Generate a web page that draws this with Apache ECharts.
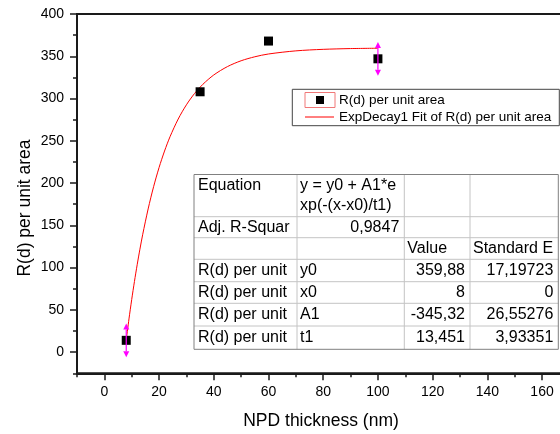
<!DOCTYPE html>
<html><head><meta charset="utf-8">
<script src="https://cdn.jsdelivr.net/npm/echarts@6/dist/echarts.min.js"></script>
<style>html,body{margin:0;padding:0;background:#fff}#c{width:560px;height:434px}</style>
</head><body><div id="c"></div>
<script>
// ---- data ----
const thickness = [8, 35, 60, 100];
const rValues = [14, 308, 368, 347];
const rErrors = [20, 0, 0, 20];
const fitX = [8, 9, 10, 11, 12, 13, 14, 16, 18, 20, 22, 24, 27, 30, 33, 36, 40, 45, 50, 55, 60, 70, 80, 90, 100];
const fitY = [14.6, 39.3, 62.3, 83.6, 103.4, 121.8, 138.9, 169.4, 195.7, 218.4, 237.9, 254.8, 275.8, 292.6, 306.1, 316.8, 327.9, 337.8, 344.7, 349.4, 352.7, 356.4, 358.2, 359.1, 359.5];
const xTickLabels = [0, 20, 40, 60, 80, 100, 120, 140, 160];
const yTickLabels = [0, 50, 100, 150, 200, 250, 300, 350, 400];
const xTitle = 'NPD thickness (nm)';
const yTitle = 'R(d) per unit area';
const legendNames = ['R(d) per unit area', 'ExpDecay1 Fit of R(d) per unit area'];
const tableRows = [
  ['Equation', 'y = y0 + A1*e\nxp(-(x-x0)/t1)', '', ''],
  ['Adj. R-Squar', '0,9847', '', ''],
  ['', '', 'Value', 'Standard E'],
  ['R(d) per unit', 'y0', '359,88', '17,19723'],
  ['R(d) per unit', 'x0', '8', '0'],
  ['R(d) per unit', 'A1', '-345,32', '26,55276'],
  ['R(d) per unit', 't1', '13,451', '3,93351']
];

// ---- layout ----
const FONT = '"Liberation Sans", Arial, sans-serif';
const PX = 2.7356;              // px per nm
const plotLeft = 77, plotTop = 14, plotH = 359.3;
const yMin = -25, yMax = 400, xMin = -10, xMax = 170;
const axisColor = '#1a1a1a';

const colX = [194, 297, 404.3, 470, 558.3];
const rowY = [174.5, 216.7, 237.7, 259.3, 281.7, 303.3, 326, 349.3];

function txt(x, y, s, align, size, extra) {
  return Object.assign({
    type: 'text', x: x, y: y, z: 100,
    style: { text: s, font: size + 'px ' + FONT, fill: '#000', align: align, textAlign: align,
             verticalAlign: 'middle', textVerticalAlign: 'middle', lineHeight: 20 }
  }, extra || {});
}

const graphics = [];
// table
graphics.push({ type: 'rect', z: 90, shape: { x: colX[0], y: rowY[0], width: colX[4] - colX[0], height: rowY[7] - rowY[0] },
  style: { fill: '#fff', stroke: null } });
for (let i = 1; i < rowY.length - 1; i++) {
  graphics.push({ type: 'line', z: 91, shape: { x1: colX[0], y1: rowY[i], x2: colX[4], y2: rowY[i] }, style: { stroke: '#c4c4c4', lineWidth: 1 } });
}
for (let j = 1; j < colX.length - 1; j++) {
  graphics.push({ type: 'line', z: 91, shape: { x1: colX[j], y1: rowY[0], x2: colX[j], y2: rowY[7] }, style: { stroke: '#c4c4c4', lineWidth: 1 } });
}
graphics.push({ type: 'rect', z: 92, shape: { x: colX[0], y: rowY[0], width: colX[4] - colX[0], height: rowY[7] - rowY[0] },
  style: { fill: null, stroke: '#808080', lineWidth: 1 } });
tableRows.forEach((row, r) => {
  row.forEach((cell, c) => {
    if (!cell) return;
    let align = 'left';
    if (c === 1 && r === 1) align = 'right';
    if (c >= 2 && r !== 2) align = 'right';
    const x = align === 'left' ? colX[c] + (c === 0 ? 4 : 3) : colX[c + 1] - 5;
    let y = (rowY[r] + rowY[r + 1]) / 2;
    if (r === 0) y = c === 0 ? 186 : 196;
    graphics.push(txt(x, y, cell, align, 16));
  });
});
// legend
graphics.push({ type: 'rect', z: 90, shape: { x: 292.3, y: 89.3, width: 267, height: 36.4 }, style: { fill: '#fff', stroke: '#444', lineWidth: 1 } });
graphics.push({ type: 'rect', z: 91, shape: { x: 305, y: 92.5, width: 30, height: 15 }, style: { fill: null, stroke: '#f07878', lineWidth: 1 } });
graphics.push({ type: 'rect', z: 92, shape: { x: 316, y: 96, width: 8, height: 8 }, style: { fill: '#000' } });
graphics.push({ type: 'line', z: 92, shape: { x1: 305, y1: 117, x2: 334, y2: 117 }, style: { stroke: '#ff0000', lineWidth: 1 } });
graphics.push(txt(339, 100, legendNames[0], 'left', 13.5));
graphics.push(txt(339, 117, legendNames[1], 'left', 13.5));
// axis titles
graphics.push(txt(321, 421, xTitle, 'center', 17.5));
graphics.push(txt(25, 208, yTitle, 'center', 17.5, { rotation: Math.PI / 2 }));

const chart = echarts.init(document.getElementById('c'), null, { renderer: 'canvas' });
const tickStyle = { color: axisColor, width: 1.5 };
const labelStyle = { fontSize: 14, color: '#000', fontFamily: FONT };
const hiddenLine = { show: true, onZero: false, lineStyle: { color: 'rgba(0,0,0,0)', width: 0 } };

chart.setOption({
  animation: false,
  backgroundColor: '#fff',
  grid: [
    { left: plotLeft, top: plotTop, width: (xMax - xMin) * PX, height: plotH, show: true, borderColor: axisColor, borderWidth: 2,
      backgroundColor: 'transparent', outerBoundsMode: 'none', containLabel: false },
    { left: plotLeft + (0 - xMin) * PX, top: plotTop, width: 160 * PX, height: plotH * (yMax / (yMax - yMin)),
      outerBoundsMode: 'none', containLabel: false }
  ],
  xAxis: [
    { gridIndex: 0, type: 'value', min: xMin, max: xMax, interval: 10,
      axisLine: { show: true, onZero: false, lineStyle: { color: axisColor, width: 2 } },
      axisTick: { show: true, length: 4, lineStyle: tickStyle }, axisLabel: { show: false }, splitLine: { show: false } },
    { gridIndex: 1, type: 'value', min: xTickLabels[0], max: xTickLabels[xTickLabels.length - 1], interval: 20,
      offset: plotH * (-yMin / (yMax - yMin)),
      axisLine: hiddenLine, axisTick: { show: true, length: 7, lineStyle: tickStyle },
      axisLabel: Object.assign({ margin: 12, formatter: v => xTickLabels.includes(v) ? String(v) : '' }, labelStyle),
      splitLine: { show: false } }
  ],
  yAxis: [
    { gridIndex: 0, type: 'value', min: yMin, max: yMax, interval: 25,
      axisLine: { show: true, onZero: false, lineStyle: { color: axisColor, width: 2 } },
      axisTick: { show: true, length: 4, lineStyle: tickStyle }, axisLabel: { show: false }, splitLine: { show: false } },
    { gridIndex: 1, type: 'value', min: yTickLabels[0], max: yTickLabels[yTickLabels.length - 1], interval: 50,
      offset: (0 - xMin) * PX,
      axisLine: hiddenLine, axisTick: { show: true, length: 7, lineStyle: tickStyle },
      axisLabel: Object.assign({ margin: 13, formatter: v => yTickLabels.includes(v) ? String(v) : '' }, labelStyle),
      splitLine: { show: false } }
  ],
  series: [
    { type: 'line', xAxisIndex: 0, yAxisIndex: 0, data: fitX.map((x, i) => [x, fitY[i]]), smooth: 0.3,
      showSymbol: false, symbol: 'none', lineStyle: { color: '#ff0000', width: 1 }, z: 2, silent: true },
    { type: 'scatter', xAxisIndex: 0, yAxisIndex: 0, data: thickness.map((x, i) => [x, rValues[i]]),
      symbol: 'rect', symbolSize: 9, itemStyle: { color: '#000', opacity: 1 }, z: 3 },
    { type: 'custom', xAxisIndex: 0, yAxisIndex: 0, z: 4,
      data: thickness.map((x, i) => [x, rValues[i], rErrors[i]]),
      encode: { x: 0, y: 1 },
      renderItem: function (params, api) {
        const x = api.value(0), y = api.value(1), e = api.value(2);
        if (!e) return null;
        const t = api.coord([x, y + e]), b = api.coord([x, y - e]);
        const L = 6, H = 3, col = '#ff00ff';
        return { type: 'group', children: [
          { type: 'line', shape: { x1: t[0], y1: t[1] + L, x2: b[0], y2: b[1] - L }, style: { stroke: col, lineWidth: 1.2 } },
          { type: 'polygon', shape: { points: [[t[0], t[1]], [t[0] - H, t[1] + L], [t[0] + H, t[1] + L]] }, style: { fill: col } },
          { type: 'polygon', shape: { points: [[b[0], b[1]], [b[0] - H, b[1] - L], [b[0] + H, b[1] - L]] }, style: { fill: col } }
        ] };
      } }
  ],
  graphic: graphics
});
</script></body></html>
